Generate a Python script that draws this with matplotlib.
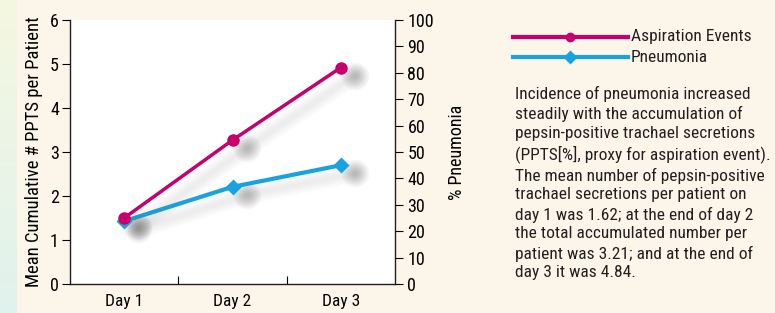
import matplotlib
matplotlib.use("Agg")
import matplotlib.pyplot as plt
import numpy as np

# data
days = ["Day 1", "Day 2", "Day 3"]
aspiration = [1.5, 3.27, 4.92]        # mean cumulative PPTS per patient
pneumonia = [23.8, 36.8, 45.0]        # % pneumonia

legend_labels = ["Aspiration Events", "Pneumonia"]
note = ("Incidence of pneumonia increased\n"
        "steadily with the accumulation of\n"
        "pepsin-positive trachael secretions\n"
        "(PPTS[%], proxy for aspiration event).\n"
        "The mean number of pepsin-positive\n"
        "trachael secretions per patient on\n"
        "day 1 was 1.62; at the end of day 2\n"
        "the total accumulated number per\n"
        "patient was 3.21; and at the end of\n"
        "day 3 it was 4.84.")

# style
MAGENTA = "#c8006e"
BLUE = "#18a3e0"
CREAM = "#fcf6ea"
plt.rcParams["font.family"] = ["Roboto Condensed", "Archivo Narrow", "Liberation Sans", "DejaVu Sans"]
plt.rcParams["text.color"] = "#231f20"

fig = plt.figure(figsize=(7.75, 3.13), dpi=100, facecolor=CREAM)

# left gradient strip + thin top strip
strip = fig.add_axes([0, 0, 17 / 775, 1])
grad = np.linspace(0, 1, 100).reshape(-1, 1)
top_c = np.array([0.96, 0.97, 0.88])
bot_c = np.array([0.88, 0.95, 0.93])
img = top_c + (bot_c - top_c) * grad[:, :, None]
strip.imshow(img, aspect="auto", extent=[0, 1, 0, 1])
strip.axis("off")
topstrip = fig.add_axes([0, 1 - 3 / 313, 1, 3 / 313])
topstrip.set_facecolor("#eef3df")
topstrip.axis("off")

ax = fig.add_axes([70 / 775, 29 / 313, 325 / 775, 264 / 313])
x = np.arange(1, len(days) + 1)


def shadow(axis, xs, ys):
    # soft grey drop shadow, offset down-right
    off = matplotlib.transforms.offset_copy(axis.transData, fig=fig, x=14, y=-8, units="dots")
    for w in np.linspace(3, 14, 6):
        axis.plot(xs, ys, color="#707070", lw=w, alpha=0.02, transform=off,
                  solid_capstyle="round", zorder=1)
    for s in np.linspace(4, 20, 9):
        axis.plot(xs, ys, ls="none", marker="o", ms=s, color="#707070", alpha=0.05,
                  mec="none", transform=off, zorder=1)


ax.set_xlim(0.5, 3.5)
ax.set_ylim(0, 6)
ax2 = ax.twinx()
ax2.set_ylim(0, 100)

# ax drawn on top of ax2, ax2 carries the white background
ax.set_zorder(ax2.get_zorder() + 1)
ax.patch.set_visible(False)
ax2.patch.set_visible(True)
ax2.patch.set_facecolor("white")

shadow(ax, x, aspiration)
shadow(ax2, x, pneumonia)
ax2.plot(x, pneumonia, color=BLUE, lw=3, marker="D", ms=8, mec="none", zorder=3)
ax.plot(x, aspiration, color=MAGENTA, lw=2.5, marker="o", ms=9, mec="none", zorder=3)

# axes styling
for a in (ax, ax2):
    a.spines["top"].set_visible(False)
ax.spines["right"].set_visible(False)
ax2.spines["left"].set_visible(False)
ax2.spines["bottom"].set_visible(False)
for s in ["left", "bottom"]:
    ax.spines[s].set_linewidth(1.0)
    ax.spines[s].set_color("#231f20")
ax2.spines["right"].set_linewidth(1.0)
ax2.spines["right"].set_color("#231f20")

ax.set_yticks(range(0, 7))
ax.tick_params(axis="y", direction="out", length=6, width=0.8, labelsize=13, pad=2)
ax.set_xticks(x)
ax.set_xticklabels(days)
ax.tick_params(axis="x", length=0, labelsize=12.5, pad=7)
ax.set_xticks([1.5, 2.5], minor=True)
ax.tick_params(axis="x", which="minor", direction="in", length=6, width=0.8)
ax2.set_yticks(range(0, 101, 10))
ax2.tick_params(axis="y", direction="out", length=6, width=0.8, labelsize=13, pad=3)

ax.set_ylabel("Mean Cumulative # PPTS per Patient", fontsize=13.4, labelpad=5)
ax2.set_ylabel("% Pneumonia", fontsize=13, labelpad=10)

# legend drawn in figure space
for i, (lab, col, mk) in enumerate(zip(legend_labels, [MAGENTA, BLUE], ["o", "D"])):
    yy = 1 - (36.5 + 20.5 * i) / 313
    fig.add_artist(plt.Line2D([513 / 775, 628 / 775], [yy, yy], color=col, lw=3,
                              transform=fig.transFigure))
    fig.add_artist(plt.Line2D([570 / 775], [yy], color=col, marker=mk, ms=7, mec="none",
                              transform=fig.transFigure))
    fig.text(631 / 775, yy, lab, fontsize=12.5, va="center", ha="left")

fig.text(515 / 775, 1 - 86 / 313, note, fontsize=12.5, va="top", ha="left", linespacing=1.32)

fig.savefig("out.png", dpi=100, facecolor=CREAM)
